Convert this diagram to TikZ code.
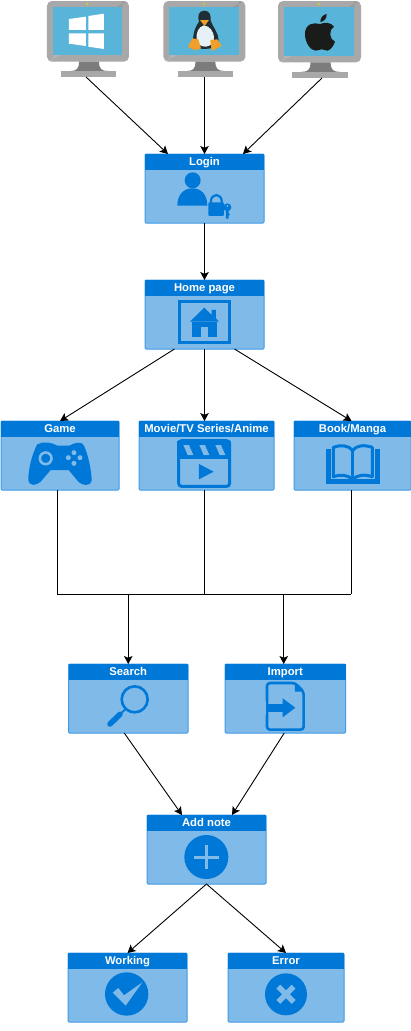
\documentclass[tikz,border=0pt]{standalone}
\usepackage{fontspec}
\setmainfont{Liberation Sans}
\usetikzlibrary{arrows.meta,calc}
\definecolor{hdr}{HTML}{0078D7}
\definecolor{pfill}{HTML}{7FBAE9}
\definecolor{pline}{HTML}{3F9BE6}
\definecolor{mbody}{HTML}{A8A8A8}
\definecolor{mdark}{HTML}{989898}
\definecolor{mlight}{HTML}{B4B4B4}
\definecolor{mneck}{HTML}{7C7C7C}
\definecolor{mscreen}{HTML}{59B4D9}
\definecolor{mled}{HTML}{B8D432}
\definecolor{pengdark}{HTML}{1F2D35}
\definecolor{pengbelly}{HTML}{E6F1F5}
\definecolor{pengfoot}{HTML}{F0A028}
\definecolor{applec}{HTML}{1A1C1A}
\tikzset{
  panelbox/.style={draw=pline,fill=pfill,line width=1pt,rounded corners=1pt,inner sep=0pt,outer sep=0pt},
  headbox/.style={fill=hdr,text=white,inner sep=0pt,outer sep=0pt,anchor=north,minimum height=15.5pt,text height=10.6pt,text depth=2.2pt,font=\fontsize{11.3}{12}\selectfont\bfseries},
  basebox/.style={fill=mbody,inner sep=0pt,outer sep=0pt,minimum height=6pt},
  conn/.style={draw=black,line width=0.9pt,-{Stealth[length=8pt,width=8.5pt,inset=1.8pt]}},
  plain/.style={draw=black,line width=0.9pt},
  iconline/.style={draw=hdr,fill=none},
  iconbg/.style={fill=pfill,draw=none},
  zoomed/.style={x=0.3333pt,y=-0.3333pt}
}
\newcommand{\panelnode}[6]{%
  \pgfmathsetmacro{\pw}{#4-#2}\pgfmathsetmacro{\ph}{#5-#3}%
  \pgfmathsetmacro{\pcx}{(#2+#4)/2}\pgfmathsetmacro{\pcy}{(#3+#5)/2}%
  \node[panelbox,minimum width=\pw pt,minimum height=\ph pt] (#1) at (\pcx,\pcy) {};
  \node[headbox,minimum width=\pw pt] (#1h) at (#1.north) {#6};
}
\newcommand{\monitorart}{%
  \fill[mbody,rounded corners=5] (51,3) rectangle (297,185);
  \fill[mlight] (92,165) -- (69,165) -- (69,185) -- (56,183) -- cycle;
  \fill[mdark] (277,22) -- (277,5) -- (290,5) -- (258,22) -- cycle;
  \fill[mscreen] (69,22) rectangle (277,165);
  \fill[mneck] (147,185) -- (207,185) .. controls (207,207) and (215,213) .. (235,213) -- (120,213) .. controls (140,213) and (147,207) .. (147,185) -- cycle;
  \fill[mled] (172,12) circle (4);
}
\begin{document}
\begin{tikzpicture}[x=1pt,y=-1pt]
\useasboundingbox (0,0) rectangle (411,1031);
\fill[white] (0,0) rectangle (411,1031);
% monitors
\begin{scope}[shift={(30,0)},zoomed]
  \monitorart
  \fill[white] (117,57) -- (168,50) -- (168,90) -- (117,90) -- cycle;
  \fill[white] (175,48) -- (222,41) -- (222,90) -- (175,90) -- cycle;
  \fill[white] (117,100) -- (168,100) -- (168,138) -- (117,131) -- cycle;
  \fill[white] (175,100) -- (222,100) -- (222,147) -- (175,140) -- cycle;
\end{scope}
\node[basebox,minimum width=55pt] (m1) at (88.5,74) {};
\begin{scope}[shift={(146.4,0)},zoomed]
  \monitorart
\end{scope}
\begin{scope}[shift={(30,0)},zoomed]
  % penguin
  \fill[pengdark] (523,32) .. controls (505,32) and (502,50) .. (507,65) .. controls (497,80) and (487,100) .. (490,125) .. controls (492,140) and (505,147) .. (523,147) .. controls (545,147) and (565,140) .. (566,120) .. controls (566,100) and (548,80) .. (542,62) .. controls (544,45) and (538,32) .. (523,32) -- cycle;
  \fill[pengbelly] (522,76) .. controls (505,80) and (497,100) .. (500,120) .. controls (503,135) and (515,140) .. (528,140) .. controls (545,138) and (553,125) .. (552,110) .. controls (550,95) and (540,78) .. (522,76) -- cycle;
  \fill[pengfoot] (510,60) -- (537,60) -- (524,78) -- cycle;
  \fill[pengfoot] (474,140) -- (487,115) -- (505,118) -- (513,145) -- (495,151) -- cycle;
  \fill[pengfoot] (541,120) -- (562,118) -- (575,138) -- (545,153) -- cycle;
\end{scope}
\node[basebox,minimum width=55pt] (m2) at (205.5,74) {};
\begin{scope}[shift={(260.8,0)},x=0.3374pt,y=-0.3374pt]
  \monitorart
\end{scope}
\begin{scope}[shift={(30,0)},zoomed]
  % apple
  \fill[applec] (870,72) .. controls (850,66) and (825,72) .. (825,102) .. controls (825,128) and (842,152) .. (857,152) .. controls (865,152) and (868,148) .. (875,148) .. controls (882,148) and (885,152) .. (893,152) .. controls (903,150) and (912,135) .. (915,125) .. controls (898,118) and (895,90) .. (912,80) .. controls (903,67) and (885,66) .. (870,72) -- cycle;
  \fill[applec] (871,66) .. controls (871,52) and (880,44) .. (890,42) .. controls (891,55) and (882,65) .. (871,66) -- cycle;
\end{scope}
\node[basebox,minimum width=56pt] (m3) at (320,75) {};
% panels
\panelnode{login}{145}{154}{264}{223}{Login}
\panelnode{home}{145}{280}{264}{349}{Home page}
\panelnode{game}{1}{421}{119}{490}{Game}
\panelnode{movie}{139}{421}{274}{490}{Movie/TV Series/Anime}
\panelnode{book}{294}{421}{411}{490}{Book/Manga}
\panelnode{search}{68.5}{664}{188}{733}{Search}
\panelnode{import}{225}{664}{345.5}{733}{Import}
\panelnode{addnote}{147}{815}{266}{884}{Add note}
\panelnode{working}{68}{953}{187}{1022}{Working}
\panelnode{error}{228}{953}{344}{1022}{Error}
% login icon
\begin{scope}[shift={(135,145)},zoomed]
  \fill[hdr] (173,106) circle (24);
  \fill[hdr] (127,182) .. controls (127,150) and (145,130) .. (172,130) .. controls (200,130) and (217,150) .. (217,182) -- cycle;
  \draw[iconline,line width=2.2pt] (228,175) -- (228,168) arc[start angle=180,end angle=0,x radius=16,y radius=-18] -- (260,175);
  \fill[hdr,rounded corners=1] (220,172) rectangle (267,213);
  \fill[hdr] (277,187) circle (12);
  \fill[iconbg] (277,183) circle (3);
  \fill[hdr] (273,195) -- (281,195) -- (281,205) -- (285,208) -- (281,212) -- (281,221) -- (273,221) -- cycle;
\end{scope}
% home icon
\begin{scope}[shift={(135,145)},zoomed]
  \draw[iconline,line width=2.4pt] (133,470) rectangle (284,592);
  \fill[hdr] (165,530) -- (208,488) -- (230,510) -- (230,495) -- (243,495) -- (243,520) -- (252,530) -- cycle;
  \fill[hdr] (172,530) rectangle (245,575);
  \fill[iconbg] (197,547) rectangle (220,575);
\end{scope}
% game icon
\begin{scope}[shift={(0,415)},zoomed]
  \fill[hdr] (112,88) .. controls (130,78) and (155,82) .. (172,92) -- (208,92) .. controls (225,82) and (245,78) .. (252,92) .. controls (265,120) and (275,170) .. (275,198) .. controls (272,215) and (245,212) .. (235,200) -- (206,165) -- (152,165) -- (122,200) .. controls (110,212) and (88,215) .. (85,195) .. controls (85,160) and (97,115) .. (112,88) -- cycle;
  \draw[draw=pfill,line width=2.6pt] (137,130) circle (17.5);
  \foreach \bx/\by in {222/113,205/128,240/128,222/145}{\fill[iconbg] (\bx,\by) circle (7.5);}
\end{scope}
% movie icon
\begin{scope}[shift={(0,415)},zoomed]
  \draw[iconline,line width=3pt,rounded corners=3pt] (536,77) rectangle (689,214);
  \fill[hdr] (532,77) rectangle (693,132);
  \fill[iconbg] (550,90) -- (567,90) -- (580,120) -- (563,120) -- cycle;
  \fill[iconbg] (598,90) -- (615,90) -- (628,120) -- (611,120) -- cycle;
  \fill[iconbg] (646,90) -- (663,90) -- (676,120) -- (659,120) -- cycle;
  \fill[hdr] (597,147) -- (641,170) -- (597,193) -- cycle;
\end{scope}
% book icon
\begin{scope}[shift={(0,415)},zoomed]
  \fill[hdr] (977,103) rectangle (992,208);
  \fill[hdr] (1125,103) rectangle (1140,208);
  \fill[hdr] (977,193) rectangle (1140,208);
  \draw[iconline,line width=3pt,fill=pfill,line join=round] (1058,108) .. controls (1045,88) and (1020,90) .. (1000,97) -- (1000,185) .. controls (1020,178) and (1045,178) .. (1058,195) .. controls (1070,178) and (1095,178) .. (1117,185) -- (1117,97) .. controls (1095,90) and (1070,88) .. (1058,108) -- cycle;
  \draw[iconline,line width=2.8pt] (1058,108) -- (1058,195);
\end{scope}
% search icon
\begin{scope}[shift={(60,660)},zoomed]
  \draw[iconline,line width=2.6pt] (224,118) circle (39);
  \draw[iconline,line width=1.8pt] (197,147) -- (180,163);
  \draw[iconline,line width=5.5pt,line cap=round] (180,163) -- (150,192);
\end{scope}
% import icon
\begin{scope}[shift={(60,660)},zoomed]
  \draw[iconline,line width=2.6pt,line join=round,rounded corners=3pt] (621,69) -- (705,69) -- (731,95) -- (731,209) -- (621,209) -- cycle;
  \fill[hdr] (705,69) -- (705,95) -- (731,95) -- cycle;
  \fill[iconbg] (610,124) rectangle (619,164);
  \fill[hdr] (617,132) rectangle (668,156);
  \fill[hdr] (668,115) -- (706,143) -- (668,172) -- cycle;
\end{scope}
% add note icon
\begin{scope}[shift={(60,810)},zoomed]
  \fill[hdr] (439,141) circle (66);
  \fill[iconbg] (402,137) rectangle (476,146);
  \fill[iconbg] (435,104) rectangle (444,178);
\end{scope}
% working icon
\begin{scope}[shift={(60,810)},zoomed]
  \fill[hdr] (200,552) circle (65);
  \fill[iconbg] (158,548) -- (175,534) -- (192,556) -- (247,517) -- (197,587) -- cycle;
\end{scope}
% error icon
\begin{scope}[shift={(60,810)},zoomed]
  \fill[hdr] (678,553) circle (63);
  \draw[draw=pfill,line width=5.5pt] (655,530) -- (701,576);
  \draw[draw=pfill,line width=5.5pt] (701,530) -- (655,576);
\end{scope}
% connectors
\draw[conn] ($(m1.south)+(-2.5,0)$) -- ($(login.north)+(-36.5,0)$);
\draw[conn] (m2.south -| login.north) -- (login.north);
\draw[conn] ($(m3.south)+(2,0)$) -- ($(login.north)+(38.5,0)$);
\draw[conn] (login.south) -- (home.north);
\draw[conn] ($(home.south)+(-30,0)$) -- ($(game.north)+(0,0)$);
\draw[conn] (home.south) -- (home.south |- movie.north);
\draw[conn] ($(home.south)+(30,0)$) -- ($(book.north)+(-1,0)$);
\coordinate (busl) at (57,594);
\coordinate (busr) at (351,594);
\draw[plain] ($(game.south)+(-3,0)$) |- (busl) -- (busr);
\draw[plain] ($(book.south)+(-1.5,0)$) -- (busr);
\draw[plain] ($(movie.south)+(-2,0)$) -- ($(movie.south |- busl)+(-2,0)$);
\draw[conn] (search.north |- busl) -- (search.north);
\draw[conn] ($(import.north |- busl)+(-1.5,0)$) -- ($(import.north)+(-1.5,0)$);
\draw[conn] ($(search.south)+(-4,0)$) -- ($(addnote.north)+(-24.5,0)$);
\draw[conn] ($(import.south)+(-1,0)$) -- ($(addnote.north)+(25.5,0)$);
\draw[conn] (addnote.south) -- (working.north);
\draw[conn] (addnote.south) -- (error.north);
\end{tikzpicture}
\end{document}
